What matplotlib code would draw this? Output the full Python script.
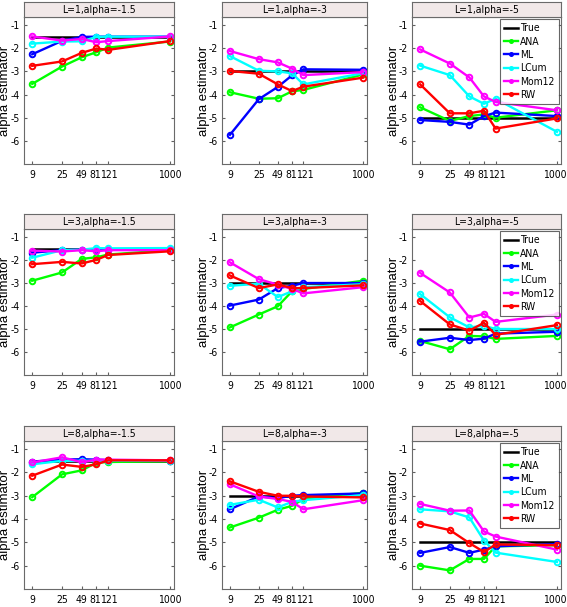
import matplotlib
matplotlib.use('Agg')
import matplotlib.pyplot as plt
from matplotlib.ticker import NullLocator
from matplotlib.transforms import ScaledTranslation

plt.rcParams['font.family'] = ['DejaVu Sans']
plt.rcParams['font.stretch'] = 'condensed'

# tamaños de muestra (eje x)
n_vals = [9, 25, 49, 81, 121, 1000]
n_labels = ['9', '25', '49', '81', '121', '1000']

titles = ['L=1,alpha=-1.5', 'L=1,alpha=-3', 'L=1,alpha=-5',
          'L=3,alpha=-1.5', 'L=3,alpha=-3', 'L=3,alpha=-5',
          'L=8,alpha=-1.5', 'L=8,alpha=-3', 'L=8,alpha=-5']
true_alpha = [-1.5, -3, -5, -1.5, -3, -5, -1.5, -3, -5]

# estimaciones por panel (filas = paneles, columnas = n)
ana = [[-3.54, -2.79, -2.39, -2.17, -1.97, -1.71],
       [-3.90, -4.18, -4.16, -3.86, -3.80, -3.13],
       [-4.55, -5.14, -4.93, -4.86, -5.00, -4.68],
       [-2.90, -2.54, -1.95, -1.88, -1.76, -1.57],
       [-4.93, -4.37, -4.01, -3.36, -3.26, -2.90],
       [-5.52, -5.88, -5.30, -5.32, -5.43, -5.30],
       [-3.06, -2.08, -1.91, -1.58, -1.55, -1.52],
       [-4.36, -3.94, -3.60, -3.43, -3.14, -2.87],
       [-6.00, -6.20, -5.71, -5.71, -5.17, -5.12]]
ml = [[-2.26, -1.68, -1.51, -1.50, -1.50, -1.50],
      [-5.74, -4.20, -3.67, -3.17, -2.91, -2.93],
      [-5.10, -5.18, -5.30, -4.93, -4.78, -4.93],
      [-1.68, -1.57, -1.55, -1.55, -1.55, -1.55],
      [-3.98, -3.72, -3.22, -3.12, -3.00, -3.00],
      [-5.55, -5.38, -5.48, -5.42, -5.20, -5.12],
      [-1.53, -1.45, -1.43, -1.45, -1.47, -1.50],
      [-3.58, -3.03, -3.10, -3.00, -2.97, -2.90],
      [-5.45, -5.20, -5.45, -5.31, -5.17, -5.07]]
lcum = [[-1.80, -1.71, -1.70, -1.51, -1.50, -1.50],
        [-2.34, -2.97, -3.00, -3.08, -3.56, -3.08],
        [-2.75, -3.16, -4.08, -4.40, -4.18, -5.61],
        [-1.90, -1.57, -1.55, -1.48, -1.49, -1.48],
        [-3.12, -3.03, -3.61, -3.36, -3.18, -3.05],
        [-3.48, -4.49, -4.93, -4.86, -5.00, -5.00],
        [-1.65, -1.50, -1.50, -1.50, -1.50, -1.50],
        [-3.39, -3.17, -3.50, -3.26, -3.19, -2.97],
        [-3.58, -3.67, -3.93, -4.92, -5.44, -5.84]]
mom12 = [[-1.49, -1.67, -1.60, -1.74, -1.69, -1.49],
         [-2.12, -2.47, -2.61, -2.88, -3.16, -3.03],
         [-2.05, -2.66, -3.26, -4.08, -4.32, -4.68],
         [-1.59, -1.63, -1.57, -1.62, -1.57, -1.57],
         [-2.10, -2.83, -3.07, -3.26, -3.45, -3.18],
         [-2.56, -3.41, -4.50, -4.34, -4.69, -4.37],
         [-1.57, -1.35, -1.56, -1.45, -1.45, -1.48],
         [-2.51, -3.03, -3.14, -3.26, -3.58, -3.19],
         [-3.35, -3.64, -3.63, -4.53, -4.75, -5.31]]
rw = [[-2.76, -2.57, -2.20, -2.01, -2.07, -1.69],
      [-2.98, -3.10, -3.56, -3.85, -3.66, -3.27],
      [-3.56, -4.81, -4.81, -4.70, -5.47, -5.03],
      [-2.18, -2.08, -2.15, -1.99, -1.78, -1.62],
      [-2.67, -3.22, -3.06, -3.22, -3.22, -3.10],
      [-3.78, -4.80, -5.07, -4.73, -5.25, -4.83],
      [-2.14, -1.66, -1.76, -1.65, -1.48, -1.48],
      [-2.38, -2.83, -3.00, -3.00, -3.03, -3.07],
      [-4.19, -4.47, -5.03, -5.41, -5.09, -5.12]]

series = [('ANA', ana, '#00ff00'), ('ML', ml, '#0000ff'), ('LCum', lcum, '#00ffff'),
          ('Mom12', mom12, '#ff00ff'), ('RW', rw, '#ff0000')]

W, H = 567, 607
fig = plt.figure(figsize=(W / 100, H / 100), dpi=100)

# posiciones en pixeles: (izquierda, derecha) por columna, (arriba datos, abajo) por fila
cols = [(24, 174), (222, 367), (412, 561)]
rows = [(17, 164), (229, 375), (441, 589)]
strip_h = 15


def shift(lbl, dx):
    lbl.set_transform(lbl.get_transform() + ScaledTranslation(dx / 100, 0, fig.dpi_scale_trans))


for k in range(9):
    r, c = divmod(k, 3)
    x0, x1 = cols[c]
    y0, y1 = rows[r]
    ax = fig.add_axes([x0 / W, 1 - y1 / H, (x1 - x0) / W, (y1 - y0) / H])

    # barra de título tipo faceta
    sx = fig.add_axes([x0 / W, 1 - y0 / H, (x1 - x0) / W, strip_h / H])
    sx.set_facecolor('#f1e8e8')
    sx.set_xticks([])
    sx.set_yticks([])
    for sp in sx.spines.values():
        sp.set_color('#6a6a6a')
    sx.text(0.5, 0.45, titles[k], ha='center', va='center', fontsize=7.5,
            transform=sx.transAxes)

    ax.plot(n_vals, [true_alpha[k]] * len(n_vals), color='black', lw=1.8, label='True')
    for name, data, col in series:
        ax.plot(n_vals, data[k], color=col, lw=1.7, marker='o', ms=4,
                mfc='none', mew=1.4, label=name)

    ax.set_xscale('log')
    ax.set_xlim(6.8, 1150)
    ax.set_ylim(-7, -0.65)
    ax.set_xticks(n_vals)
    ax.set_xticklabels(n_labels)
    ax.xaxis.set_minor_locator(NullLocator())
    ax.set_yticks([-1, -2, -3, -4, -5, -6])
    ax.set_yticklabels(['-1', '-2', '-3', '-4', '-5', '-6'])
    ax.tick_params(direction='in', labelsize=7.5, length=2.5, right=True,
                   color='#606060')
    ax.tick_params(axis='x', pad=4.5)
    ax.tick_params(axis='y', pad=3)
    for sp in ax.spines.values():
        sp.set_color('#6a6a6a')
    ax.set_ylabel('alpha estimator', fontsize=9.5,
                  family=['Liberation Sans', 'DejaVu Sans'], fontstretch='normal')
    ax.yaxis.set_label_coords(-12.5 / (x1 - x0), 0.5)

    # 81 y 121 quedan pegados como en la figura original
    xl = ax.get_xticklabels()
    shift(xl[3], -1.0)
    shift(xl[4], 1.0)
    if c == 2:
        shift(xl[5], -2.5)

    if c == 2:
        leg = ax.legend(loc='upper right', fontsize=7.5, handlelength=1.4,
                        handletextpad=0.2, borderpad=0.4, labelspacing=0.32,
                        fancybox=False, edgecolor='#404040', markerscale=0.55,
                        borderaxespad=0.2)
        leg.get_frame().set_linewidth(0.8)
        for h in leg.legend_handles:
            h.set_markerfacecolor(h.get_color())

fig.savefig('out.png', dpi=100)
